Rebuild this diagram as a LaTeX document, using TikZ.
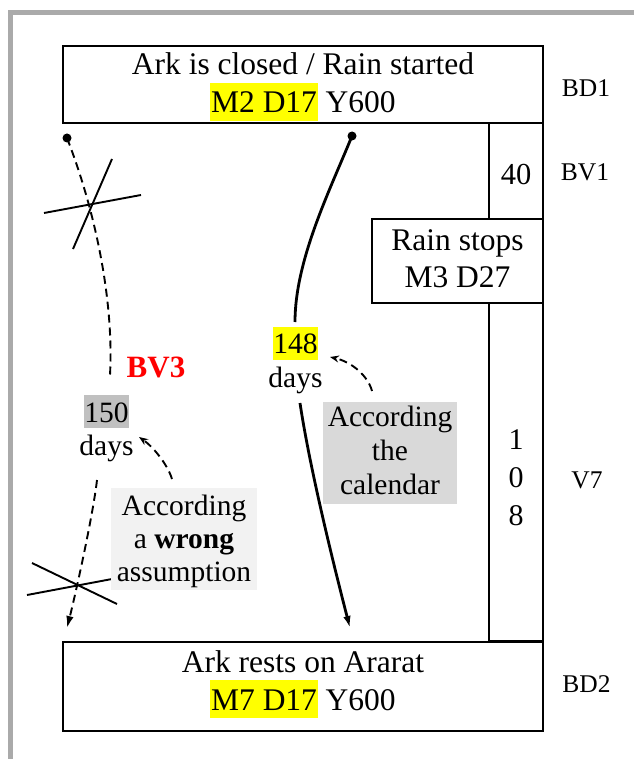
\documentclass[tikz,border=0pt]{standalone}
\usepackage{fontspec}
\setmainfont{Liberation Serif}
\usetikzlibrary{arrows.meta}
\definecolor{framegray}{RGB}{170,170,170}
\definecolor{hlgray}{RGB}{192,192,192}
\definecolor{calfill}{RGB}{217,217,217}
\definecolor{wrongfill}{RGB}{242,242,242}
\definecolor{hlyellow}{RGB}{255,255,0}
\definecolor{bvred}{RGB}{255,0,0}
% highlight: colour, depth, total height, text
\newcommand{\hlbox}[4]{{\setlength{\fboxsep}{0pt}\colorbox{#1}{\kern0.8pt\rule[-#2]{0pt}{#3}#4\kern0.8pt}}}
\begin{document}
\begin{tikzpicture}[x=1pt,y=-1pt,
  every node/.style={inner sep=0pt, outer sep=0pt},
  mainbox/.style={draw, line width=1.8pt, align=center, font=\fontsize{31.5}{38}\selectfont},
  cellbox/.style={draw, line width=1.8pt, align=center},
  sidelabel/.style={anchor=base, font=\fontsize{25.5}{30}\selectfont},
  daylabel/.style={align=center, font=\fontsize{29.5}{34}\selectfont},
  notebox/.style={align=center, font=\fontsize{29.5}{34}\selectfont},
  dotnode/.style={circle, fill=black, minimum size=9pt},
  dashline/.style={line width=1.9pt, dash pattern=on 8pt off 5pt},
  solidcurve/.style={line width=2.8pt},
  bigtip/.style={-{Latex[length=12pt,width=7.5pt]}},
  smalltip/.style={-{Stealth[length=9pt,width=7pt]}},
  crossline/.style={line width=1.9pt},
]
\useasboundingbox (0,0) rectangle (634,759);
% frame
\draw[framegray, line width=5pt] (10,759) -- (10,12.5) -- (634,12.5);

% right strip cells
\node[cellbox, minimum width=54pt, minimum height=96pt, font=\fontsize{30.5}{36}\selectfont] (bv1cell) at (516,171) {\rule{0pt}{28pt}40};
\node[cellbox, minimum width=54pt, minimum height=338pt, font=\fontsize{30}{38}\selectfont] (v7cell) at (516,472) {\rule{0pt}{32pt}1\\0\\8};

% main boxes
\node[mainbox, fill=white, minimum width=480pt, minimum height=77pt] (bd1box) at (303,84.5)
  {\rule{0pt}{27pt}Ark is closed / Rain started\\ \hlbox{hlyellow}{8pt}{38pt}{M2 D17} Y600\rule[-8pt]{0pt}{0pt}};
\node[mainbox, fill=white, minimum width=171pt, minimum height=84pt, font=\fontsize{31.5}{37}\selectfont] (rainbox) at (457.5,261)
  {\rule{0pt}{23pt}Rain stops\\ M3 D27\rule[-8pt]{0pt}{0pt}};
\node[mainbox, fill=white, minimum width=480pt, minimum height=89pt] (bd2box) at (303,686.5)
  {\rule{0pt}{22pt}Ark rests on Ararat\\ \hlbox{hlyellow}{8pt}{38pt}{M7 D17} Y600\rule[-13pt]{0pt}{0pt}};

% side labels
\node[sidelabel] (bd1) at (586,96.7) {BD1};
\node[sidelabel] (bv1) at (585,181) {BV1};
\node[sidelabel] (v7) at (587,488) {V7};
\node[sidelabel] (bd2) at (586.5,692) {BD2};

% crossed-out marks (drawn before the boxes that cover them)
\coordinate (xa1) at (112,159); \coordinate (xa2) at (73,249);
\coordinate (xb1) at (44,213);  \coordinate (xb2) at (141,195);
\coordinate (xc1) at (32,563);  \coordinate (xc2) at (117,604);
\coordinate (xd1) at (27,595);  \coordinate (xd2) at (112,579);
\draw[crossline] (xa1) -- (xa2);
\draw[crossline] (xb1) -- (xb2);
\draw[crossline] (xc1) -- (xc2);
\draw[crossline] (xd1) -- (xd2);

% note boxes
\node[notebox, fill=calfill, minimum width=134pt, minimum height=102pt] (calbox) at (390,453)
  {\rule{0pt}{22pt}According\\the\\calendar\rule[-6.3pt]{0pt}{0pt}};
\node[notebox, fill=wrongfill, minimum width=146pt, minimum height=102pt, font=\fontsize{29.5}{33.35}\selectfont] (wrongbox) at (184,539)
  {\rule{0pt}{25.5pt}According\\a \textbf{wrong}\\assumption\rule[-6.8pt]{0pt}{0pt}};

% day labels
\node[daylabel] (d148) at (295.5,361) {\hlbox{hlyellow}{7pt}{33pt}{148}\\days\rule[-8pt]{0pt}{0pt}};
\node[daylabel, font=\fontsize{29.5}{33}\selectfont] (d150) at (106.5,429) {\hlbox{hlgray}{6pt}{33pt}{150}\\days\rule[-8pt]{0pt}{0pt}};
\node[anchor=base, text=bvred, font=\fontsize{31}{36}\bfseries\selectfont] (bv3) at (156,377) {BV3};

% dots and connector ends
\node[dotnode] (dotL) at (67,138) {};
\node[dotnode] (dotR) at (352,136) {};
\coordinate (r1) at (295,322);
\coordinate (r2) at (300,403);
\coordinate (rEnd) at (350,628);
\coordinate (l1) at (110,375);
\coordinate (l2) at (97,480);
\coordinate (lEnd) at (67,628);
\coordinate (calStart) at (372,391);
\coordinate (calEnd) at (330,357);
\coordinate (wrStart) at (172,479);
\coordinate (wrEnd) at (139,437);

% solid curve (calendar)
\draw[solidcurve] (dotR.center) .. controls (330,190) and (295,260) .. (r1);
\draw[solidcurve, bigtip] (r2) .. controls (310,470) and (335,570) .. (rEnd);

% dashed curve (wrong assumption)
\draw[dashline] (dotL.center) .. controls (95,210) and (114,300) .. (l1);
\draw[dashline, bigtip] (l2) .. controls (93,515) and (76,592) .. (lEnd);

% small dashed arrows
\draw[dashline, smalltip] (calStart) .. controls (368,376) and (352,362) .. (calEnd);
\draw[dashline, smalltip] (wrStart) .. controls (167,463) and (152,446) .. (wrEnd);
\end{tikzpicture}
\end{document}
